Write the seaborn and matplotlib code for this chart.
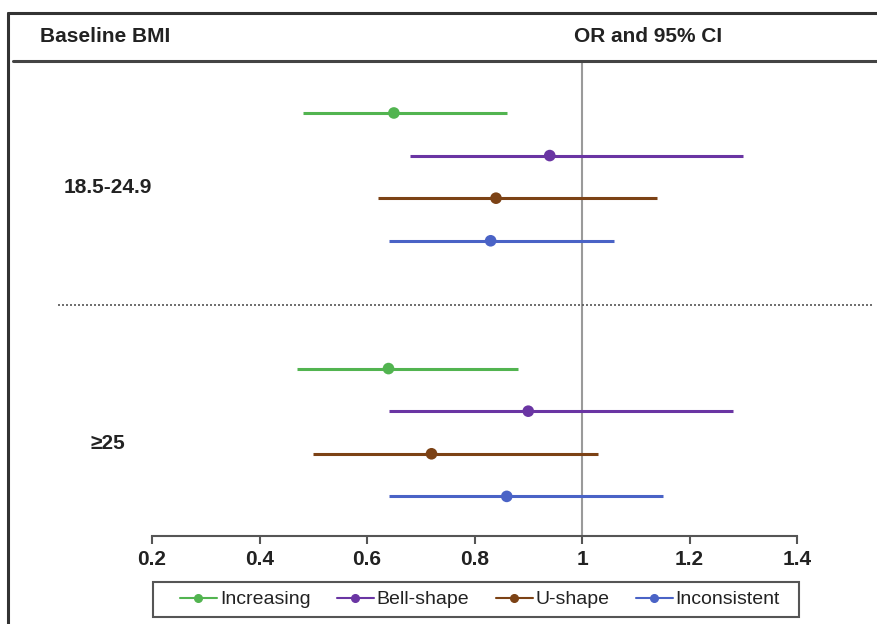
import matplotlib
matplotlib.use("Agg")
import matplotlib.pyplot as plt
from matplotlib.lines import Line2D
from matplotlib.patches import Rectangle
import seaborn as sns
import pandas as pd

# ---- data ----
groups = ["18.5-24.9", "≥25"]
patterns = ["Increasing", "Bell-shape", "U-shape", "Inconsistent"]
or_g1 = [0.65, 0.94, 0.84, 0.83]
lo_g1 = [0.48, 0.68, 0.62, 0.64]
hi_g1 = [0.86, 1.30, 1.14, 1.06]
or_g2 = [0.64, 0.90, 0.72, 0.86]
lo_g2 = [0.47, 0.64, 0.50, 0.64]
hi_g2 = [0.88, 1.28, 1.03, 1.15]
xticks = [0.2, 0.4, 0.6, 0.8, 1.0, 1.2, 1.4]
xticklabels = ["0.2", "0.4", "0.6", "0.8", "1", "1.2", "1.4"]
colors = ["#52b450", "#6a35a3", "#7c4215", "#4a63c6"]

rows = []
for gi, (g, ors, los, his) in enumerate(zip(groups, [or_g1, or_g2], [lo_g1, lo_g2], [hi_g1, hi_g2])):
    for pi, p in enumerate(patterns):
        rows.append(dict(group=g, pattern=p, OR=ors[pi], lo=los[pi], hi=his[pi], row=gi * 6 + pi))
df = pd.DataFrame(rows)

sns.set_theme(style="white")
plt.rcParams["font.family"] = ["Liberation Sans", "DejaVu Sans"]

W, H = 877, 624
fig = plt.figure(figsize=(W / 100, H / 100), dpi=100)
ax = fig.add_axes([152 / W, 1 - 536 / H, 645 / W, (536 - 61) / H])

pal = dict(zip(patterns, colors))
for _, r in df.iterrows():
    ax.hlines(r["row"], r["lo"], r["hi"], color=pal[r["pattern"]], lw=2.2, zorder=2)
sns.scatterplot(data=df, x="OR", y="row", hue="pattern", palette=pal, s=70,
                edgecolor="none", legend=False, ax=ax, zorder=3)

ax.axvline(1.0, color="#9a9a9a", lw=1.5, zorder=1)
ax.axhline(4.5, xmin=(58 - 152) / 645, xmax=(873 - 152) / 645, color="#555555",
           lw=1.2, ls=(0, (1.2, 1.2)), clip_on=False)

ax.set_xlim(0.2, 1.4)
ax.set_ylim(9.93, -1.22)
ax.set_xticks(xticks)
ax.set_xticklabels(xticklabels, fontsize=15, fontweight="bold", color="#222222")
ax.set_yticks([])
ax.set_xlabel("")
ax.set_ylabel("")
for s in ["top", "right", "left"]:
    ax.spines[s].set_visible(False)
ax.spines["bottom"].set_color("#555555")
ax.spines["bottom"].set_linewidth(1.5)
ax.tick_params(axis="x", direction="out", length=6, width=1.5, color="#555555", pad=4, bottom=True)

# group labels
for gi, g in enumerate(groups):
    ax.text((108 - 152) / 645, gi * 6 + 1.75, g, transform=ax.get_yaxis_transform(),
            ha="center", va="center", fontsize=15, fontweight="bold", color="#222222")

# headers and frame
fig.text(40 / W, 1 - 37 / H, "Baseline BMI", ha="left", va="center", fontsize=15,
         fontweight="bold", color="#222222")
fig.text(648 / W, 1 - 37 / H, "OR and 95% CI", ha="center", va="center", fontsize=15,
         fontweight="bold", color="#222222")
fig.add_artist(Line2D([13 / W, 1.0], [1 - 61 / H] * 2, color="#444444", lw=2.2))
fig.add_artist(Line2D([8 / W, 1.0], [1 - 13 / H] * 2, color="#333333", lw=2.2))
fig.add_artist(Line2D([8 / W] * 2, [0, 1 - 13 / H], color="#333333", lw=2.2))

# legend
fig.add_artist(Rectangle((153 / W, 1 - 617 / H), (799 - 153) / W, 35 / H,
                         transform=fig.transFigure, fill=False, edgecolor="#555555", lw=1.5))
handles = [Line2D([0], [0], color=c, lw=1.5, marker="o", markersize=5.5) for c in colors]
leg = fig.legend(handles, patterns, loc="center", ncol=4, mode="expand",
                 bbox_to_anchor=(180 / W, 1 - 617 / H, 600 / W, 35 / H),
                 frameon=False, fontsize=14, handlelength=1.9,
                 handletextpad=0.15, borderpad=0.0, columnspacing=1.0, borderaxespad=0)
for t in leg.get_texts():
    t.set_color("#222222")

fig.savefig("out.png", dpi=100)
